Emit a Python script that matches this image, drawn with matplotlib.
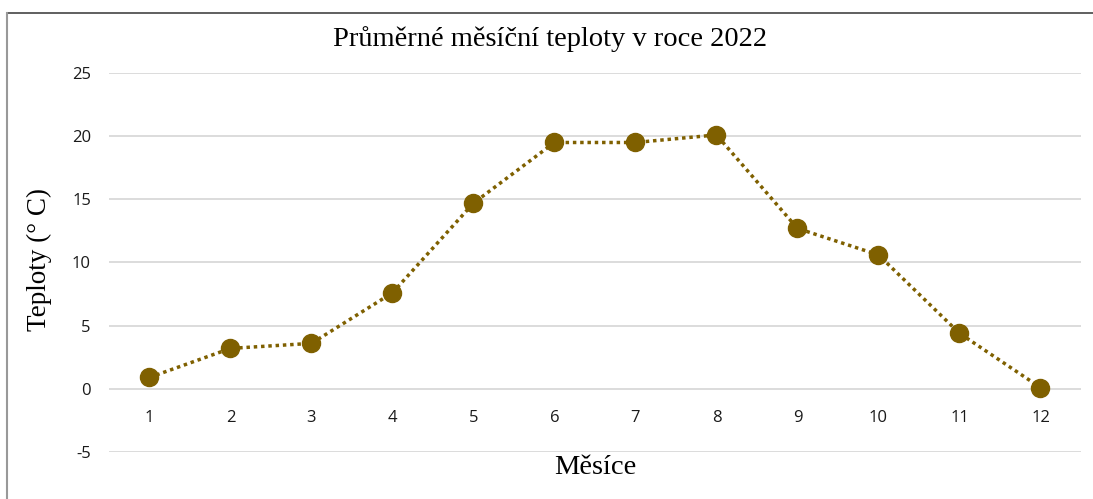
import matplotlib
matplotlib.use("Agg")
import matplotlib.pyplot as plt
from matplotlib.lines import Line2D

plt.rcParams["axes.unicode_minus"] = False

months = [1, 2, 3, 4, 5, 6, 7, 8, 9, 10, 11, 12]
temps = [0.9, 3.2, 3.6, 7.6, 14.7, 19.5, 19.5, 20.1, 12.7, 10.6, 4.4, 0.1]
yticks = [-5, 0, 5, 10, 15, 20, 25]

title = "Průměrné měsíční teploty v roce 2022"
xlabel = "Měsíce"
ylabel = "Teploty (° C)"

color = "#7F6000"

fig = plt.figure(figsize=(10.93, 4.99), dpi=100)
ax = fig.add_axes([0.0997, 0.0942, 0.8893, 0.7595])

ax.plot(months, temps, linestyle=(0, (1, 1.1)), linewidth=2.5, color=color,
        marker="o", markersize=13, markerfacecolor=color, markeredgecolor=color, zorder=3)

ax.set_xlim(0.5, 12.5)
ax.set_ylim(-5, 25)
ax.set_yticks(yticks)
ax.set_xticks(months)
ax.grid(axis="y", color="#d9d9d9", linewidth=1.3)
ax.set_axisbelow(True)

for s in ["top", "right", "left"]:
    ax.spines[s].set_visible(False)
ax.spines["bottom"].set_position(("data", 0))
ax.spines["bottom"].set_visible(False)

ax.tick_params(axis="both", length=0, labelsize=12, labelcolor="#1a1a1a")
ax.tick_params(axis="y", pad=13)
ax.tick_params(axis="x", pad=15)
for lab in ax.get_xticklabels() + ax.get_yticklabels():
    lab.set_fontfamily("Open Sans")

fig.text(0.503, 0.921, title, ha="center", va="center", fontsize=20.5,
         family="Liberation Serif")
fig.text(0.545, 0.064, xlabel, ha="center", va="center", fontsize=20.5,
         family="Liberation Serif")
fig.text(0.036, 0.479, ylabel, ha="center", va="center", fontsize=19.5,
         rotation=90, family="Liberation Serif")

# outer frame lines
fig.add_artist(Line2D([7/1093, 1.0], [1 - 13/499, 1 - 13/499], transform=fig.transFigure,
                      color="#444444", linewidth=1.2))
fig.add_artist(Line2D([7/1093, 7/1093], [0, 1 - 13/499], transform=fig.transFigure,
                      color="#999999", linewidth=1.5))

fig.savefig("out.png", dpi=100)
